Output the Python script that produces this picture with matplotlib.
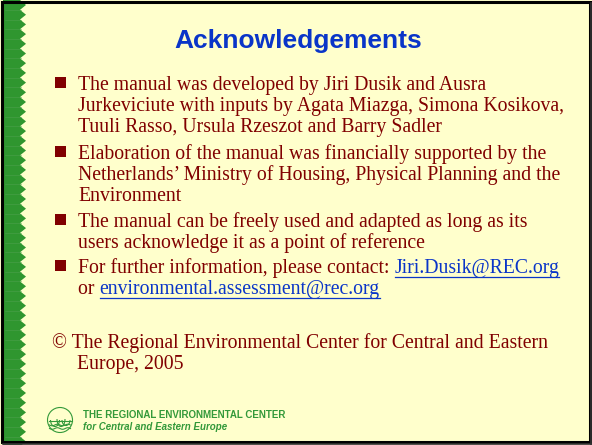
import numpy as np
import matplotlib.pyplot as plt
from matplotlib.patches import Polygon, Rectangle, Circle, Arc

W, H = 592, 445

# slide content
title = "Acknowledgements"
bullets = [
    ["The manual was developed by Jiri Dusik and Ausra",
     "Jurkeviciute with inputs by Agata Miazga, Simona Kosikova,",
     "Tuuli Rasso, Ursula Rzeszot and Barry Sadler"],
    ["Elaboration of the manual was financially supported by the",
     "Netherlands\u2019 Ministry of Housing, Physical Planning and the",
     "Environment"],
    ["The manual can be freely used and adapted as long as its",
     "users acknowledge it as a point of reference"],
]
bullet_baselines = [[90, 111, 132], [159, 180, 201], [227, 248]]
contact_text = ["For further information, please contact: ", "or "]
contact_links = ["Jiri.Dusik@REC.org", "environmental.assessment@rec.org"]
contact_baselines = [273, 294]
copyright_lines = ["\u00a9 The Regional Environmental Center for Central and Eastern",
                   "Europe, 2005"]
copyright_baselines = [348, 369]
footer_lines = ["THE REGIONAL ENVIRONMENTAL CENTER", "for Central and Eastern Europe"]

BG = "#FFFFCC"
RED = "#800000"
BLUE = "#0A35C8"
GREEN = "#33993A"
SERIF = ["Liberation Serif", "DejaVu Serif"]
SANS = ["Liberation Sans", "DejaVu Sans"]
FS = 14.2

fig = plt.figure(figsize=(W / 100, H / 100), dpi=100)
fig.patch.set_facecolor(BG)
ax = fig.add_axes([0, 0, 1, 1])
ax.set_xlim(0, W)
ax.set_ylim(H, 0)
ax.axis("off")

# green zigzag strip on the left
period = 9.7
tips = np.arange(5, H + period, period)
pts = [(3, 0), (20, 0)]
for t in tips:
    pts.append((26, t))
    pts.append((20, t + period / 2))
pts += [(20, H), (3, H)]
ax.add_patch(Polygon(pts, closed=True, facecolor="#2F962F", edgecolor="none"))
for t in tips:
    ax.plot([5, 21], [t + period / 2, t + period / 2], color="#4AA04A", lw=0.4)

# frame
ax.add_patch(Rectangle((1.5, 1.5), W - 3.5, H - 4.5, fill=False,
                       edgecolor="black", lw=2.2))
ax.plot([W - 1, W - 1], [3, H], color="#333333", lw=1.2)
ax.plot([3, W], [H - 1, H - 1], color="#333333", lw=1.2)

ax.text(298, 48, title, fontsize=19, fontweight="bold", color=BLUE,
        family=SANS, ha="center", va="baseline")

renderer = fig.canvas.get_renderer()
inv = ax.transData.inverted()


def bullet_square(base):
    ax.add_patch(Rectangle((54.5, base - 13.5), 11, 11, facecolor=RED,
                           edgecolor="none"))


for lines, bases in zip(bullets, bullet_baselines):
    bullet_square(bases[0])
    for line, b in zip(lines, bases):
        ax.text(78, b, line, fontsize=FS, color=RED, family=SERIF, va="baseline")

bullet_square(contact_baselines[0])
for pre, link, b in zip(contact_text, contact_links, contact_baselines):
    t = ax.text(78, b, pre, fontsize=FS, color=RED, family=SERIF, va="baseline")
    bb = t.get_window_extent(renderer)
    x1 = inv.transform((bb.x1, bb.y0))[0]
    lt = ax.text(x1, b, link, fontsize=FS, color=BLUE, family=SERIF, va="baseline")
    lb = lt.get_window_extent(renderer)
    lx0 = inv.transform((lb.x0, lb.y0))[0]
    lx1 = inv.transform((lb.x1, lb.y0))[0]
    ax.plot([lx0, lx1], [b + 3.5, b + 3.5], color=BLUE, lw=0.9)

ax.text(52, copyright_baselines[0], copyright_lines[0], fontsize=FS, color=RED,
        family=SERIF, va="baseline")
ax.text(77, copyright_baselines[1], copyright_lines[1], fontsize=FS, color=RED,
        family=SERIF, va="baseline")

# footer logo: circle with three trees over waves
cx, cy, r = 60, 420, 12.5
ax.add_patch(Circle((cx, cy), r, fill=False, edgecolor=GREEN, lw=0.8))
ax.add_patch(Arc((cx - 5, cy), 9, 13, theta1=0, theta2=180, edgecolor=GREEN, lw=0.8))
ax.add_patch(Arc((cx + 1, cy - 1), 8, 15, theta1=0, theta2=180, edgecolor=GREEN, lw=0.8))
ax.add_patch(Arc((cx + 6, cy), 8, 11, theta1=0, theta2=180, edgecolor=GREEN, lw=0.8))
ax.plot([cx - r + 1, cx + r - 1], [cy + 1, cy + 1], color=GREEN, lw=0.8)
xs = np.linspace(cx - r + 2, cx + r - 2, 30)
for dy in (5, 8.5):
    ax.plot(xs, cy + dy + 0.8 * np.sin((xs - cx) * 0.6), color=GREEN, lw=0.8)

ax.text(83, 418, footer_lines[0], fontsize=7.05, fontweight="bold", color=GREEN,
        family=SANS, va="baseline")
ax.text(83, 430, footer_lines[1], fontsize=7.05, fontweight="bold", style="italic",
        color=GREEN, family=SANS, va="baseline")

fig.savefig("out.png", dpi=100, facecolor=BG)
